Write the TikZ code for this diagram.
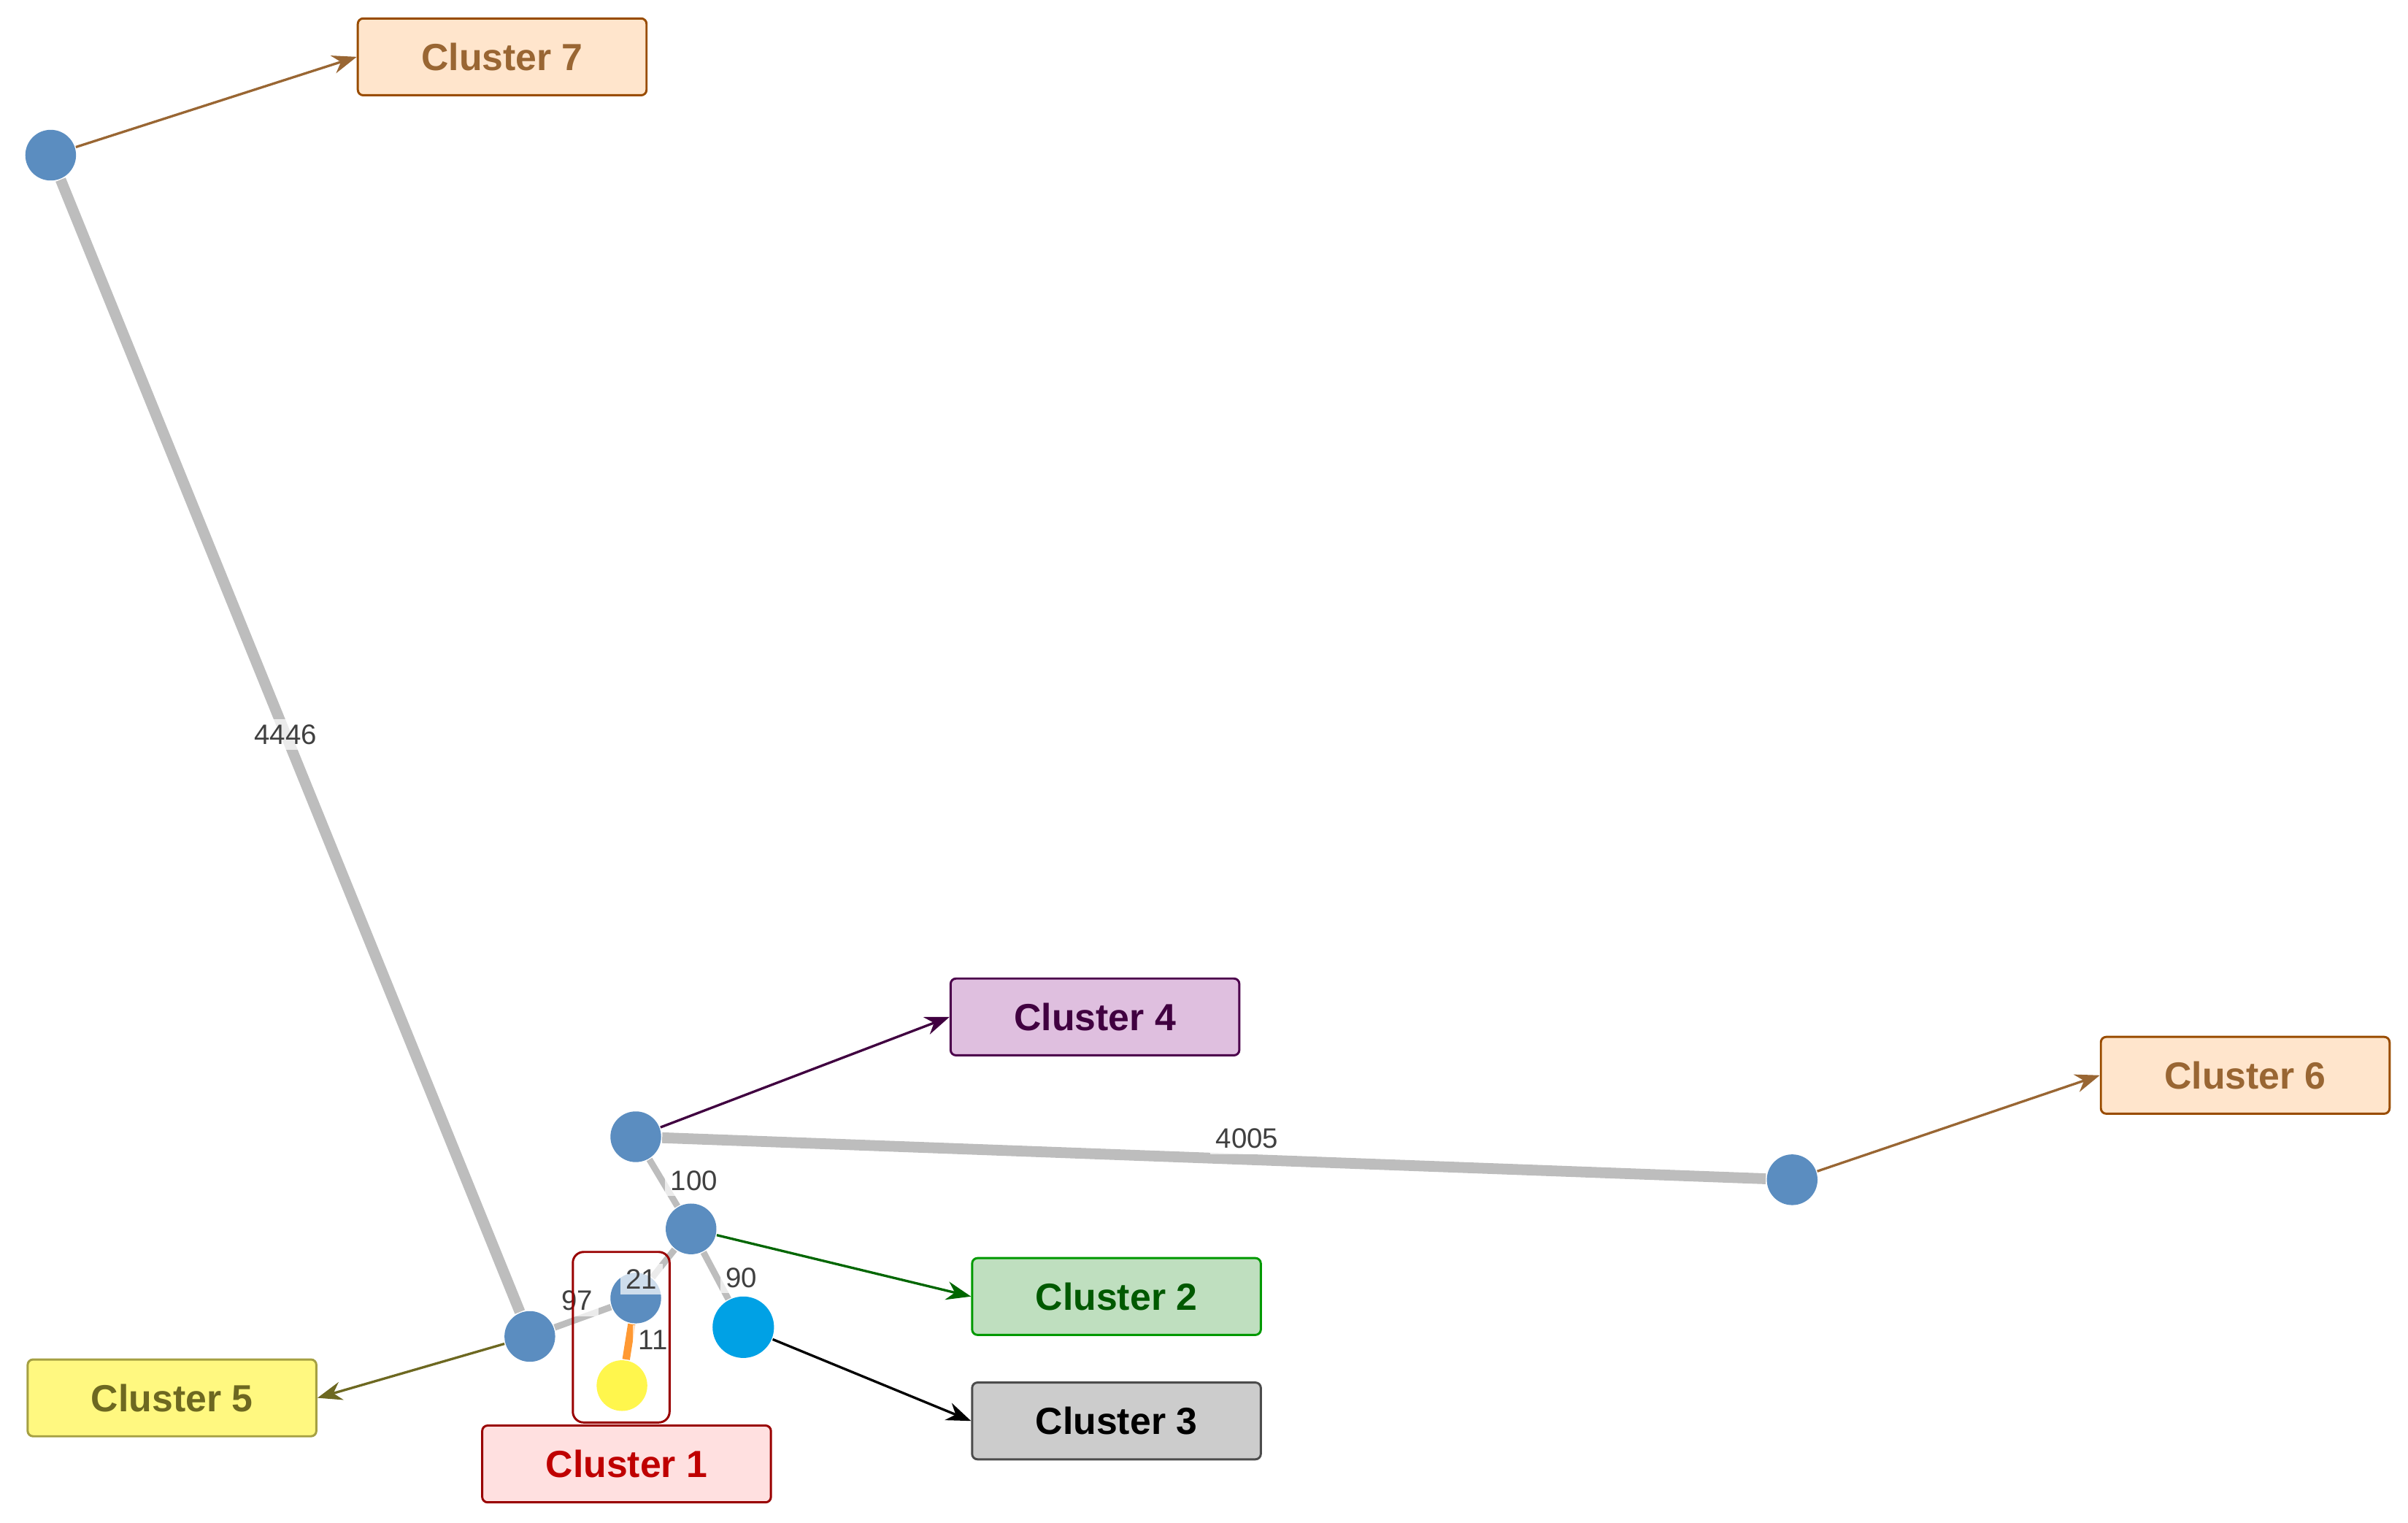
\documentclass[tikz,border=0pt]{standalone}
\usepackage{fontspec}
\setmainfont{Liberation Sans}
\usetikzlibrary{arrows.meta}
\definecolor{nodeblue}{HTML}{5B8DC0}
\definecolor{edgegray}{HTML}{BDBDBD}
\tikzset{
  vertex/.style={circle,fill=nodeblue,inner sep=0pt,minimum size=3.3mm},
  tree/.style={draw=edgegray,line width=2pt},
  twig/.style={draw=edgegray,line width=1.2pt},
  cluster/.style={draw=#1!60!black,rounded corners=1pt,minimum width=18.8mm,
    minimum height=5mm,font=\bfseries\fontsize{7}{8}\selectfont},
  pointer/.style={-{Stealth[length=1.6mm]},line width=0.45pt},
  weight/.style={font=\fontsize{5.2}{6}\selectfont,text=black!75,inner sep=1pt,fill=white,fill opacity=0.7,text opacity=1}
}
\begin{document}
\begin{tikzpicture}[x=0.1mm,y=-0.1mm]
  \useasboundingbox (0,0) rectangle (1568,991);

  % vertices
  \node[vertex] (v7) at (33,101) {};
  \node[vertex] (v5) at (345,870) {};
  \node[vertex] (v1) at (414,845) {};
  \node[circle,fill=yellow!70,inner sep=0pt,minimum size=3.3mm] (vy) at (405,902) {};
  \node[vertex] (v4) at (414,740) {};
  \node[vertex] (v2) at (450,800) {};
  \node[circle,fill=blue!30!cyan!90!black,inner sep=0pt,minimum size=4mm] (v3) at (484,864) {};
  \node[vertex] (v6) at (1167,768) {};

  % edges
  \draw[tree] (v7) -- node[weight,pos=0.49] {4446} (v5);
  \draw[tree] (v4) -- node[weight,above,pos=0.53] {4005} (v6);
  \draw[twig] (v4) -- node[weight,right,pos=0.45] {100} (v2);
  \draw[twig] (v2) -- node[weight,right,pos=0.55] {90} (v3);
  \draw[twig] (v2) -- node[weight,below left,pos=0.4] {21} (v1);
  \draw[twig] (v1) -- node[weight,above,pos=0.6] {97} (v5);
  \draw[draw=orange!80,line width=1.4pt] (v1) -- node[weight,right,pos=0.45] {11} (vy);
  \node[draw=red!60!black,rounded corners=2pt,minimum width=6.3mm,minimum height=11.1mm,inner sep=0pt] (box1) at (404.5,870.5) {};

  % cluster labels
  \node[cluster=orange,fill=orange!20,text=brown!80!black] (c7) at (327,37) {Cluster 7};
  \node[cluster=violet,fill=violet!25,text=violet!50!black] (c4) at (713,662) {Cluster 4};
  \node[cluster=orange,fill=orange!20,text=brown!80!black] (c6) at (1462,700) {Cluster 6};
  \node[cluster=green,fill=green!50!black!25,text=green!35!black] (c2) at (727,844) {Cluster 2};
  \node[cluster=gray,fill=gray!40,text=black] (c3) at (727,925) {Cluster 3};
  \node[cluster=yellow,fill=yellow!50,text=olive!70!black] (c5) at (112,910) {Cluster 5};
  \node[cluster=red,fill=red!12,text=red!75!black] (c1) at (408,953) {Cluster 1};

  % pointers
  \draw[pointer,brown!80!black] (v7) -- (c7.west);
  \draw[pointer,violet!50!black] (v4) -- (c4.west);
  \draw[pointer,brown!80!black] (v6) -- (c6.west);
  \draw[pointer,green!40!black] (v2) -- (c2.west);
  \draw[pointer,black] (v3) -- (c3.west);
  \draw[pointer,olive!70!black] (v5) -- (c5.east);
\end{tikzpicture}
\end{document}
